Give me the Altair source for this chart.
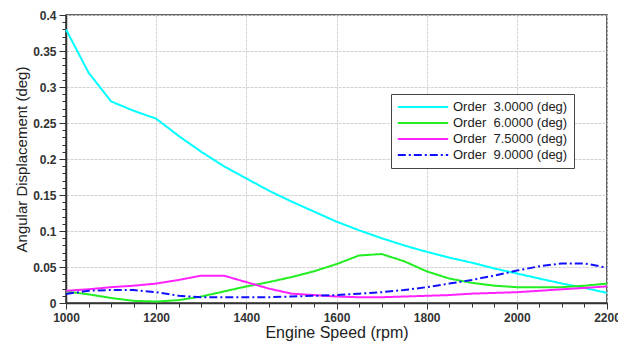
import altair as alt
import pandas as pd

rpm = [1000, 1050, 1100, 1150, 1200, 1250, 1300, 1350, 1400, 1450, 1500, 1550,
       1600, 1650, 1700, 1750, 1800, 1850, 1900, 1950, 2000, 2050, 2100, 2150, 2200]

order3 = [0.380, 0.320, 0.280, 0.267, 0.256, 0.232, 0.210, 0.190, 0.173, 0.156,
          0.141, 0.127, 0.113, 0.101, 0.090, 0.080, 0.071, 0.063, 0.056, 0.048,
          0.041, 0.034, 0.027, 0.021, 0.014]
order6 = [0.016, 0.012, 0.007, 0.003, 0.002, 0.004, 0.009, 0.016, 0.023, 0.029,
          0.036, 0.044, 0.054, 0.066, 0.068, 0.058, 0.044, 0.034, 0.028, 0.024,
          0.022, 0.022, 0.022, 0.024, 0.027]
order75 = [0.017, 0.019, 0.022, 0.024, 0.027, 0.032, 0.038, 0.038, 0.029, 0.020,
           0.013, 0.011, 0.009, 0.008, 0.008, 0.009, 0.010, 0.011, 0.013, 0.014,
           0.015, 0.017, 0.019, 0.021, 0.023]
order9 = [0.0125, 0.017, 0.018, 0.018, 0.015, 0.010, 0.008, 0.008, 0.008, 0.008,
          0.009, 0.010, 0.011, 0.013, 0.015, 0.018, 0.022, 0.027, 0.032, 0.038,
          0.045, 0.051, 0.055, 0.055, 0.049]

series_names = [
    "Order\u00a0\u00a03.0000 (deg)",
    "Order\u00a0\u00a06.0000 (deg)",
    "Order\u00a0\u00a07.5000 (deg)",
    "Order\u00a0\u00a09.0000 (deg)",
]
series_values = [order3, order6, order75, order9]
colors = ["#00FFFF", "#22EE22", "#FF22FF", "#1010FF"]
dashes = [[1, 0], [1, 0], [1, 0], [8, 3, 2, 3]]

x_major = [1000, 1200, 1400, 1600, 1800, 2000, 2200]
x_minor = list(range(1000, 2201, 50))
y_major = [0, 0.05, 0.1, 0.15, 0.2, 0.25, 0.3, 0.35, 0.4]
y_minor = [round(i * 0.01, 2) for i in range(0, 41)]

rows = []
for name, vals in zip(series_names, series_values):
    for r, v in zip(rpm, vals):
        rows.append({"rpm": r, "val": v, "series": name})
df = pd.DataFrame(rows)

FONT = "Liberation Sans"

xscale = alt.Scale(domain=[1000, 2200], nice=False, zero=False)
yscale = alt.Scale(domain=[0, 0.4], nice=False)

color_enc = alt.Color(
    "series:N",
    scale=alt.Scale(domain=series_names, range=colors),
    legend=alt.Legend(
        title=None,
        orient="none",
        legendX=325,
        legendY=79,
        symbolType="M-4.2,0L4.2,0",
        symbolSize=144,
        symbolStrokeWidth=2,
        symbolOffset=19,
        labelFont=FONT,
        labelFontSize=13,
        labelColor="#222",
        labelOffset=23,
        rowPadding=2,
        padding=6,
        strokeColor="#444",
        fillColor="white",
        labelLimit=300,
    ),
)
dash_enc = alt.StrokeDash(
    "series:N",
    scale=alt.Scale(domain=series_names, range=dashes),
    legend=alt.Legend(title=None),
)

lines = alt.Chart(df).mark_line(strokeWidth=2).encode(
    x=alt.X(
        "rpm:Q",
        scale=xscale,
        axis=alt.Axis(
            values=x_major,
            title="Engine Speed (rpm)",
            titleFont=FONT,
            titleFontSize=16,
            titleFontWeight="normal",
            titleColor="#222",
            titlePadding=1,
            labelFont=FONT,
            labelFontSize=12,
            labelFontWeight="bold",
            labelColor="#333",
            labelPadding=3,
            labelFlush=False,
            labelOverlap=False,
            format="d",
            tickSize=6,
            tickColor="#333",
            domainColor="#333",
            domainWidth=1.5,
            grid=True,
            gridColor="#d4d4d4",
            gridDash=[3, 1],
        ),
    ),
    y=alt.Y(
        "val:Q",
        scale=yscale,
        axis=alt.Axis(
            values=y_major,
            title="Angular Displacement (deg)",
            titleFont=FONT,
            titleFontSize=15,
            titleFontWeight="normal",
            titleColor="#222",
            titlePadding=3,
            labelFont=FONT,
            labelFontSize=12,
            labelFontWeight="bold",
            labelColor="#333",
            labelPadding=3,
            labelFlush=False,
            labelOverlap=False,
            format="~g",
            tickSize=7,
            tickColor="#333",
            domainColor="#333",
            domainWidth=1.5,
            grid=True,
            gridColor="#d4d4d4",
            gridDash=[3, 1],
        ),
    ),
    color=color_enc,
    strokeDash=dash_enc,
    order=alt.Order("rpm:Q"),
)

minor = alt.Chart(df).mark_line(opacity=0).encode(
    x=alt.X(
        "rpm:Q",
        scale=xscale,
        axis=alt.Axis(
            values=x_minor, orient="bottom", labels=False, title=None,
            tickSize=4, tickColor="#333", domain=False, grid=False,
        ),
    ),
    y=alt.Y(
        "val:Q",
        scale=yscale,
        axis=alt.Axis(
            values=y_minor, orient="left", labels=False, title=None,
            tickSize=4, tickColor="#333", domain=False, grid=False,
        ),
    ),
    detail="series:N",
)

chart = (
    alt.layer(lines, minor)
    .resolve_axis(x="independent", y="independent")
    .properties(
        width=541,
        height=288,
        autosize=alt.AutoSizeParams(type="none"),
        padding={"left": 66, "top": 15, "right": 11, "bottom": 39},
        background="white",
    )
    .configure_view(stroke="#333", strokeWidth=1.5)
)

chart.save("out.html", embed_options={"renderer": "svg", "actions": False})
